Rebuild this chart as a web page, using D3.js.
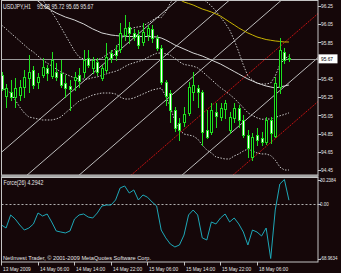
<!DOCTYPE html>
<html>
<head>
<meta charset="utf-8">
<script src="https://cdn.jsdelivr.net/npm/d3@7"></script>
<style>
  html, body { margin: 0; padding: 0; background: #150709; }
  svg { display: block; }
  text { font-family: "Liberation Sans", Arial, sans-serif; fill: #e6e6e6; }
</style>
</head>
<body>
<svg id="chart" width="341" height="273"></svg>
<script>
// --- 数据：USDJPY H1 蜡烛 (第0根 = 13 May 22:00) ---
const opens = [
  95.49, 95.26, 95.31, 95.25, 95.27, 95.36, 95.46, 95.55,
  95.41, 95.49, 95.57, 95.48, 95.53, 95.51, 95.41, 95.37,
  95.44, 95.49, 95.53, 95.68, 95.57, 95.64, 95.46, 95.55,
  95.73, 95.77, 95.77, 95.93, 96.02, 95.95, 95.93, 95.85,
  95.93, 96.00, 95.90, 95.79, 95.42, 95.30, 95.11, 94.97,
  94.98, 95.07, 95.30, 95.35, 95.31, 94.89, 94.87, 95.09,
  95.03, 95.11, 94.89, 95.02, 95.13, 95.00, 94.83, 94.59,
  94.83, 94.80, 94.76, 95.00, 94.83, 95.36, 95.75, 95.68];
const highs = [
  95.53, 95.39, 95.44, 95.46, 95.44, 95.55, 95.71, 95.59,
  95.51, 95.68, 95.60, 95.75, 95.62, 95.66, 95.49, 95.44,
  95.53, 95.57, 95.77, 95.77, 95.69, 95.68, 95.60, 95.84,
  95.77, 95.82, 96.06, 96.15, 96.07, 96.00, 95.99, 96.06,
  96.04, 96.04, 95.93, 95.82, 95.44, 95.33, 95.14, 95.02,
  95.14, 95.42, 95.53, 95.38, 95.33, 95.11, 95.18, 95.18,
  95.18, 95.22, 95.09, 95.18, 95.16, 95.05, 94.89, 94.86,
  94.91, 94.87, 95.03, 95.03, 95.47, 95.90, 95.79, 95.72];
const lows = [
  95.33, 95.14, 95.22, 95.14, 95.22, 95.25, 95.31, 95.35,
  95.35, 95.47, 95.44, 95.46, 95.44, 95.36, 95.25, 95.11,
  95.33, 95.36, 95.47, 95.58, 95.51, 95.49, 95.44, 95.53,
  95.64, 95.66, 95.75, 95.88, 95.84, 95.88, 95.79, 95.82,
  95.88, 95.85, 95.77, 95.39, 95.16, 94.98, 94.88, 94.78,
  94.93, 95.05, 95.22, 95.14, 94.72, 94.80, 94.85, 94.92,
  95.00, 95.02, 94.86, 94.98, 94.92, 94.81, 94.59, 94.56,
  94.72, 94.72, 94.74, 94.75, 94.81, 95.30, 95.62, 95.65];
const closes = [
  95.34, 95.35, 95.26, 95.35, 95.36, 95.47, 95.53, 95.38,
  95.47, 95.58, 95.51, 95.66, 95.47, 95.38, 95.35, 95.34,
  95.47, 95.42, 95.66, 95.60, 95.66, 95.53, 95.57, 95.69,
  95.68, 95.71, 95.95, 96.01, 95.95, 95.91, 95.82, 95.96,
  96.01, 95.90, 95.79, 95.42, 95.27, 95.11, 94.91, 94.89,
  95.07, 95.36, 95.38, 95.31, 94.87, 94.81, 95.11, 95.05,
  95.13, 95.18, 95.03, 95.13, 95.00, 94.83, 94.69, 94.81,
  94.78, 94.76, 95.00, 94.86, 95.41, 95.77, 95.66, 95.67];

// 布林带 (点线)
const bandUpper = [
  96.733, 96.667, 96.612, 96.601, 96.590, 96.568, 96.525, 96.470,
  96.393, 96.316, 96.250, 96.184, 96.107, 96.020, 95.932, 95.844,
  95.756, 95.690, 95.668, 95.646, 95.657, 95.657, 95.679, 95.714,
  95.746, 95.781, 95.857, 95.942, 95.990, 96.012, 96.021, 96.030,
  96.061, 96.091, 96.124, 96.122, 96.184, 96.283, 96.349, 96.382,
  96.371, 96.371, 96.360, 96.349, 96.338, 96.294, 96.250, 96.195,
  96.129, 96.064, 95.987, 95.877, 95.745, 95.603, 95.482, 95.438,
  95.405, 95.394, 95.394, 95.405, 95.482, 95.603, 95.668, 95.701];
const bandMiddle = [
  96.042, 95.998, 95.954, 95.910, 95.866, 95.822, 95.778, 95.745,
  95.701, 95.657, 95.624, 95.592, 95.559, 95.526, 95.504, 95.482,
  95.460, 95.449, 95.449, 95.448, 95.464, 95.472, 95.488, 95.505,
  95.521, 95.533, 95.554, 95.585, 95.610, 95.626, 95.641, 95.657,
  95.684, 95.709, 95.731, 95.735, 95.725, 95.710, 95.673, 95.637,
  95.608, 95.600, 95.590, 95.571, 95.531, 95.486, 95.443, 95.396,
  95.354, 95.318, 95.279, 95.237, 95.186, 95.133, 95.078, 95.048,
  95.023, 95.006, 95.010, 95.009, 95.025, 95.045, 95.059, 95.077];
const bandLower = [
  95.350, 95.328, 95.295, 95.218, 95.141, 95.076, 95.032, 95.021,
  95.010, 94.999, 94.999, 94.999, 95.010, 95.032, 95.076, 95.119,
  95.163, 95.207, 95.229, 95.251, 95.273, 95.284, 95.295, 95.295,
  95.295, 95.284, 95.251, 95.229, 95.229, 95.240, 95.262, 95.284,
  95.306, 95.328, 95.339, 95.350, 95.262, 95.141, 94.988, 94.889,
  94.845, 94.834, 94.823, 94.790, 94.724, 94.669, 94.637, 94.593,
  94.582, 94.571, 94.571, 94.604, 94.626, 94.658, 94.680, 94.658,
  94.637, 94.626, 94.626, 94.609, 94.560, 94.483, 94.450, 94.450];

// 慢速均线 (白色实线)
const maSlow = [
  96.536, 96.503, 96.470, 96.437, 96.404, 96.382, 96.360, 96.338,
  96.305, 96.261, 96.228, 96.201, 96.173, 96.151, 96.129, 96.113,
  96.096, 96.074, 96.053, 96.025, 95.998, 95.976, 95.954, 95.943,
  95.932, 95.926, 95.921, 95.918, 95.915, 95.915, 95.915, 95.915,
  95.915, 95.913, 95.910, 95.899, 95.877, 95.850, 95.822, 95.800,
  95.778, 95.756, 95.734, 95.718, 95.701, 95.679, 95.657, 95.635,
  95.613, 95.586, 95.559, 95.531, 95.504, 95.476, 95.449, 95.427,
  95.405, 95.388, 95.372, 95.361, 95.350, 95.361, 95.372, 95.383];

// 长期均线 (黄色)，从第34根开始可见
const maLongStart = 34;
const maLong = [
  96.459, 96.431, 96.404, 96.376, 96.349, 96.321,
  96.294, 96.278, 96.261, 96.239, 96.217, 96.201, 96.184, 96.162,
  96.140, 96.107, 96.074, 96.042, 96.009, 95.981, 95.954, 95.932,
  95.910, 95.896, 95.882, 95.874, 95.866, 95.861, 95.855, 95.855];

// Force(26)
const forceValues = [
  -26.9, -30.7, -14.3, -19.4, -26.9, -33.2, -30.7, -25.6,
  -11.8, -15.6, -13.1, -23.1, -34.4, -35.7, -36.9, -34.4,
  -19.4, -14.3, -13.1, -16.9, -18.1, -11.8, -3.0, -1.8,
  -1.8, 4.5, 19.6, 22.1, 13.3, 17.1, 4.5, 10.8,
  8.0, 2.0, -3.0, -33.2, -43.1, -50.8, -54.5, -52.0,
  -39.5, -14.3, -8.1, -14.3, -43.1, -45.7, -23.1, -25.6,
  -18.1, -13.1, -23.1, -18.1, -25.6, -35.7, -52.0, -33.2,
  -35.7, -40.7, -30.7, -68.9634, -8.0, 24.6, 30.2384, 4.2942];
const forceMax = 30.2384, forceMin = -68.9634;

// 平行通道线：第0根与第63根处的价格
const channelAt0 = [94.645, 94.151, 93.657, 93.163, 92.680, 92.197];
const channelAt63 = [97.373, 96.879, 96.385, 95.891, 95.408, 94.925];
const redChannels = [3, 5];

const priceTicks = [96.25, 96.05, 95.85, 95.45, 95.25, 95.05, 94.85, 94.65, 94.45];
const lastPrice = 95.67;
const forceTicks = [forceMax, 0, forceMin];
const forceTickLabels = ["30.2384", "0.00", "-68.9634"];
const timeTickBars = [0, 8, 16, 24, 32, 40, 48, 56];
const timeLabels = ["13 May 2009", "14 May 06:00", "14 May 14:00", "14 May 22:00",
  "15 May 06:00", "15 May 14:00", "15 May 22:00", "18 May 06:00"];

// --- 绘图 ---
const W = 341, H = 273;
const left = 1.5, right = 318;
const mainTop = 0.5, mainBottom = 175;
const subTop = 177.5, subBottom = 262;
const bg = "#150709", green = "#1fe01f", frame = "#c4c4c4";

const svg = d3.select("#chart");
const x = d3.scaleLinear().domain([0, 56]).range([1.5, 257]);
const y = d3.scaleLinear().domain([94.45, 96.25]).range([170, 6]);
const yF = d3.scaleLinear().domain([forceMin, forceMax]).range([258.5, 179.5]);
const px = v => Math.round(v) + 0.5;

// 文字横向压缩 (原图字体较窄)
function squeeze(sel, k) {
  sel.each(function () {
    const w = this.getComputedTextLength();
    d3.select(this).attr("textLength", w * k).attr("lengthAdjust", "spacingAndGlyphs");
  });
}

svg.append("rect").attr("width", W).attr("height", H).attr("fill", bg);

const defs = svg.append("defs");
defs.append("clipPath").attr("id", "clipMain").append("rect")
  .attr("x", left).attr("y", mainTop).attr("width", right - left).attr("height", mainBottom - mainTop);
defs.append("clipPath").attr("id", "clipSub").append("rect")
  .attr("x", left).attr("y", subTop).attr("width", right - left).attr("height", subBottom - subTop);

const main = svg.append("g").attr("clip-path", "url(#clipMain)");

// 通道线
const lastBar = x.invert(right);
channelAt0.forEach((p0, k) => {
  const p1 = channelAt63[k];
  const at = b => p0 + (p1 - p0) * b / 63;
  const isRed = redChannels.includes(k);
  main.append("line")
    .attr("x1", x(-1)).attr("y1", y(at(-1)))
    .attr("x2", x(lastBar)).attr("y2", y(at(lastBar)))
    .attr("stroke", isRed ? "#c01212" : "#bdbdbd")
    .attr("stroke-width", 1)
    .attr("stroke-dasharray", isRed ? "2,1" : null);
});

// 当前价格线
main.append("line")
  .attr("x1", left).attr("x2", right)
  .attr("y1", px(y(lastPrice))).attr("y2", px(y(lastPrice)))
  .attr("stroke", "#9a9a9a");

const priceLine = d3.line().defined(d => d != null).x((d, i) => x(i)).y(d => y(d));

[bandUpper, bandMiddle, bandLower].forEach(band => {
  main.append("path").attr("d", priceLine(band))
    .attr("fill", "none").attr("stroke", "#c8c8c8")
    .attr("stroke-width", 1).attr("stroke-dasharray", "1.5,1.5");
});

main.append("path").attr("d", priceLine(maSlow))
  .attr("fill", "none").attr("stroke", "#d6d6d6").attr("stroke-width", 1);

main.append("path")
  .attr("d", d3.line().x((d, i) => x(i + maLongStart)).y(d => y(d))(maLong))
  .attr("fill", "none").attr("stroke", "#c8b400").attr("stroke-width", 1);

// 蜡烛
const bars = d3.range(opens.length).map(i => ({ i, o: opens[i], h: highs[i], l: lows[i], c: closes[i] }));
main.selectAll(".wick").data(bars).enter().append("line")
  .attr("class", "wick")
  .attr("x1", d => px(x(d.i))).attr("x2", d => px(x(d.i)))
  .attr("y1", d => Math.round(y(d.h))).attr("y2", d => Math.round(y(d.l)) + 1)
  .attr("stroke", green);
main.selectAll(".body").data(bars).enter().append("rect")
  .attr("class", "body")
  .attr("x", d => px(x(d.i)) - 1)
  .attr("y", d => Math.round(y(Math.max(d.o, d.c))) + 0.5)
  .attr("width", 2)
  .attr("height", d => Math.max(1, Math.round(Math.abs(y(d.o) - y(d.c)))))
  .attr("fill", d => d.c >= d.o ? "#000" : "#fff")
  .attr("stroke", green);

// Force 子窗口
const sub = svg.append("g").attr("clip-path", "url(#clipSub)");
sub.append("line")
  .attr("x1", left).attr("x2", right)
  .attr("y1", px(yF(0))).attr("y2", px(yF(0)))
  .attr("stroke", "#b0b0b0").attr("stroke-dasharray", "2,2");
sub.append("path")
  .attr("d", d3.line().x((d, i) => x(i)).y(d => yF(d))(forceValues))
  .attr("fill", "none").attr("stroke", "#1ea8b8").attr("stroke-width", 1);

// 边框
svg.append("rect").attr("x", left).attr("y", mainTop)
  .attr("width", right - left).attr("height", mainBottom - mainTop)
  .attr("fill", "none").attr("stroke", frame);
svg.append("rect").attr("x", left - 0.5).attr("y", mainBottom).attr("width", right - left + 1).attr("height", 2.5)
  .attr("fill", "#a8a8a8");
svg.append("rect").attr("x", left).attr("y", subTop)
  .attr("width", right - left).attr("height", subBottom - subTop)
  .attr("fill", "none").attr("stroke", frame);

// 价格轴
priceTicks.forEach(p => {
  svg.append("line").attr("x1", right).attr("x2", right + 3)
    .attr("y1", px(y(p))).attr("y2", px(y(p))).attr("stroke", frame);
  svg.append("text").attr("x", 321).attr("y", y(p) + 2.2)
    .attr("font-size", 6).text(p.toFixed(2)).call(squeeze, 0.8);
});
svg.append("rect").attr("x", right + 0.5).attr("y", y(lastPrice) - 4.5)
  .attr("width", 19).attr("height", 9).attr("fill", "#ffffff");
svg.append("text").attr("x", 321).attr("y", y(lastPrice) + 2.2)
  .attr("font-size", 6).style("fill", "#000").text(lastPrice.toFixed(2)).call(squeeze, 0.8);

// Force 轴：用横向缩放代替 textLength，保证标签留在右边缘内
forceTicks.forEach((v, k) => {
  svg.append("line").attr("x1", right).attr("x2", right + 3)
    .attr("y1", px(yF(v))).attr("y2", px(yF(v))).attr("stroke", frame);
  const dy = k === 0 ? 2.6 : (k === 2 ? 1.2 : 2.2);
  svg.append("text")
    .attr("transform", `translate(320,${yF(v) + dy}) scale(0.74,1)`)
    .attr("font-size", 6).text(forceTickLabels[k]);
});

// 时间轴
timeTickBars.forEach((b, k) => {
  const tx = px(x(b) - 0.5);
  svg.append("line").attr("x1", tx).attr("x2", tx)
    .attr("y1", subBottom).attr("y2", subBottom + 3.5).attr("stroke", frame);
  svg.append("text").attr("x", tx + 1.5).attr("y", 271)
    .attr("font-size", 6).text(timeLabels[k]).call(squeeze, 0.8);
});

// 标题与说明
svg.append("text").attr("x", 3).attr("y", 8.5).attr("font-size", 6.5)
  .text("USDJPY,H1").call(squeeze, 0.8);
svg.append("text").attr("x", 37).attr("y", 8.5).attr("font-size", 6.5)
  .text("95.68 95.72 95.65 95.67").call(squeeze, 0.8);
svg.append("text").attr("x", 3.5).attr("y", 185).attr("font-size", 6.5)
  .text("Force(26) 4.2942").call(squeeze, 0.8);
svg.append("text").attr("x", 3).attr("y", 259.5).attr("font-size", 6)
  .text("NetInvest Trader, \u00a9 2001-2009 MetaQuotes Software Corp.")
  .attr("textLength", 148).attr("lengthAdjust", "spacingAndGlyphs");
</script>
</body>
</html>
